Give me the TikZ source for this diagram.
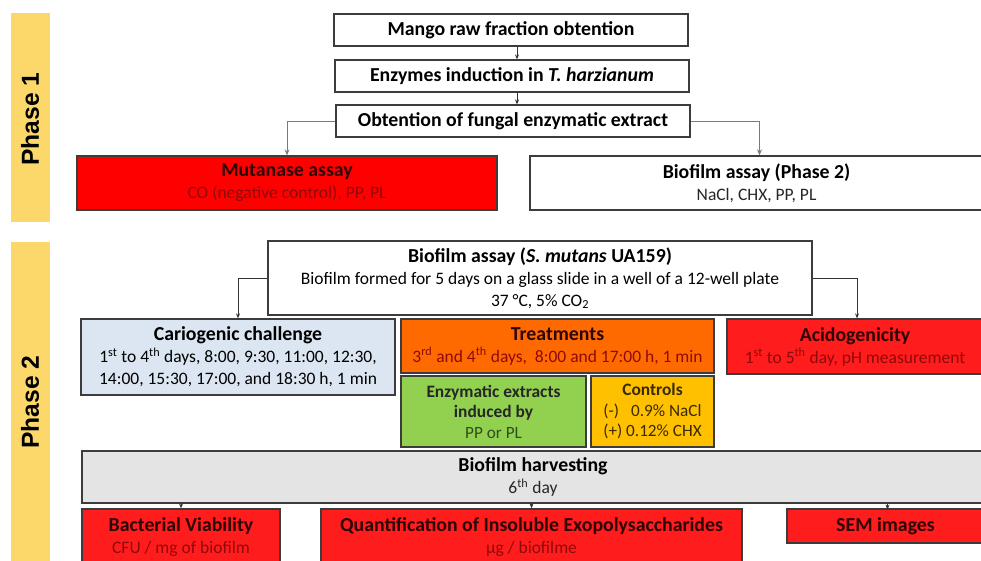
\documentclass[tikz,border=0pt]{standalone}
\usepackage{fontspec}
\setmainfont{Carlito}
\newfontfamily\phasefont{Liberation Sans}
\usetikzlibrary{arrows.meta}
\definecolor{phasebar}{HTML}{FCD86A}
\definecolor{boxline}{HTML}{3C3C3C}
\definecolor{mutred}{HTML}{FF0000}
\definecolor{brred}{HTML}{FF1C1C}
\definecolor{orng}{HTML}{FF6A00}
\definecolor{ltblue}{HTML}{DCE6F2}
\definecolor{grn}{HTML}{92D050}
\definecolor{gold}{HTML}{FFC000}
\definecolor{ltgray}{HTML}{E4E4E4}
\definecolor{dkred}{HTML}{8E0A0A}
\definecolor{ttred}{HTML}{2E0505}
\definecolor{dkgrn}{HTML}{2F4F1A}
\definecolor{dkgold}{HTML}{3A2A00}
\definecolor{arrgray}{HTML}{7A7A7A}
\newcommand\ttl[1]{{\fontsize{19.8}{22.5}\selectfont\bfseries #1}}
\newcommand\sttl[1]{{\fontsize{17.4}{20.5}\selectfont\bfseries #1}}
\tikzset{
  box/.style={draw=boxline, line width=1.3pt, inner sep=0pt, align=center,
    font=\fontsize{17.5}{22}\selectfont},
  arr/.style={draw=black!80, line width=0.8pt, -{Stealth[length=5pt,width=4pt]}},
  garr/.style={draw=arrgray, line width=0.9pt, -{Stealth[length=6pt,width=5pt,open]}},
  phasebox/.style={fill=phasebar, draw=none},
  phaselbl/.style={rotate=90, font=\phasefont\fontsize{24.6}{29}\selectfont\bfseries}
}
\begin{document}
\begin{tikzpicture}[x=1pt,y=-1pt]
\useasboundingbox (0,0) rectangle (981,560);
% phase bars
\fill[phasebox] (11,13) rectangle (50,222);
\fill[phasebox] (11,242) rectangle (50,566);
\node[phaselbl] (p1) at (30,119) {Phase 1};
\node[phaselbl] (p2) at (30,402) {Phase 2};
% Phase 1
\node[box, fill=white, minimum width=354, minimum height=32] (mango) at (511,30) {\ttl{Mango raw fraction obtention}};
\node[box, fill=white, minimum width=354, minimum height=32] (enz) at (512,76) {\ttl{Enzymes induction in \textit{T. harzianum}}};
\node[box, fill=white, minimum width=354, minimum height=32] (obt) at (513,121) {\ttl{Obtention of fungal enzymatic extract}};
\node[box, fill=mutred, text=dkred, minimum width=420, minimum height=54] (mut) at (287,183) {\ttl{\color{ttred}Mutanase assay}\\CO (negative control), PP, PL};
\node[box, fill=white, text=black!85, minimum width=453, minimum height=54] (bf2) at (756.5,183) {\ttl{\color{black}Biofilm assay (Phase 2)}\\NaCl, CHX, PP, PL};
\draw[arr] ([xshift=6pt]mango.south) -- ([xshift=5pt]enz.north);
\draw[arr] ([xshift=5pt]enz.south) -- ([xshift=4pt]obt.north);
\draw[garr] (obt.west) -| (mut.north);
\draw[garr] (obt.east) -| ([xshift=3pt]bf2.north);
% Phase 2
\node[box, fill=white, minimum width=544, minimum height=74] (sm) at (540,278) {\ttl{Biofilm assay (\textit{S. mutans} UA159)}\\Biofilm formed for 5 days on a glass slide in a well of a 12-well plate\\37 °C, 5\% CO\textsubscript{2}};
\node[box, fill=ltblue, minimum width=314, minimum height=76] (car) at (238,357) {\ttl{Cariogenic challenge}\\1\textsuperscript{st} to 4\textsuperscript{th} days, 8:00, 9:30, 11:00, 12:30,\\14:00, 15:30, 17:00, and 18:30 h, 1 min};
\node[box, fill=orng, text=dkred, minimum width=313, minimum height=54] (trt) at (557.5,346) {\ttl{\color{ttred}Treatments}\\3\textsuperscript{rd} and 4\textsuperscript{th} days,\ \ 8:00 and 17:00 h, 1 min};
\node[box, fill=brred, text=dkred, minimum width=256, minimum height=55] (acid) at (855,346.5) {\ttl{\color{ttred}Acidogenicity}\\1\textsuperscript{st} to 5\textsuperscript{th} day, pH measurement};
\node[box, fill=grn, text=dkgrn, minimum width=185, minimum height=71, font=\fontsize{17.2}{20.5}\selectfont] (enx) at (493.5,411.5) {\sttl{\color{black!85}Enzymatic extracts}\\\sttl{\color{black!85}induced by}\\PP or PL};
\node[box, fill=gold, text=dkgold, minimum width=123, minimum height=71, font=\fontsize{17.2}{20.5}\selectfont] (ctl) at (652.5,411.5) {\sttl{Controls}\\(-)\hspace{0.7em}0.9\% NaCl\\(+) 0.12\% CHX};
\draw[arr] (sm.west) -| (car.north);
\draw[arr] (sm.east) -| ([xshift=2pt]acid.north);
\node[box, fill=ltgray, text=black!85, minimum width=902, minimum height=52] (harv) at (533,477) {\ttl{\color{black}Biofilm harvesting}\\6\textsuperscript{th} day};
\node[box, fill=brred, text=dkred, minimum width=198, minimum height=57] (bv) at (181,537.5) {\ttl{\color{ttred}Bacterial Viability}\\CFU / mg of biofilm};
\node[box, fill=brred, text=dkred, minimum width=421, minimum height=57] (qt) at (531.5,537.5) {\ttl{\color{ttred}Quantification of Insoluble Exopolysaccharides}\\µg / biofilme};
\node[box, fill=brred, text=ttred, minimum width=197, minimum height=34] (sem) at (885.5,526) {\ttl{SEM images}};
\draw[arr] (harv.south -| bv.north) -- (bv.north);
\draw[arr] (harv.south -| qt.north) -- (qt.north);
\draw[arr] (harv.south -| sem.north) ++(2pt,0) -- ++(0,6);
\end{tikzpicture}
\end{document}
